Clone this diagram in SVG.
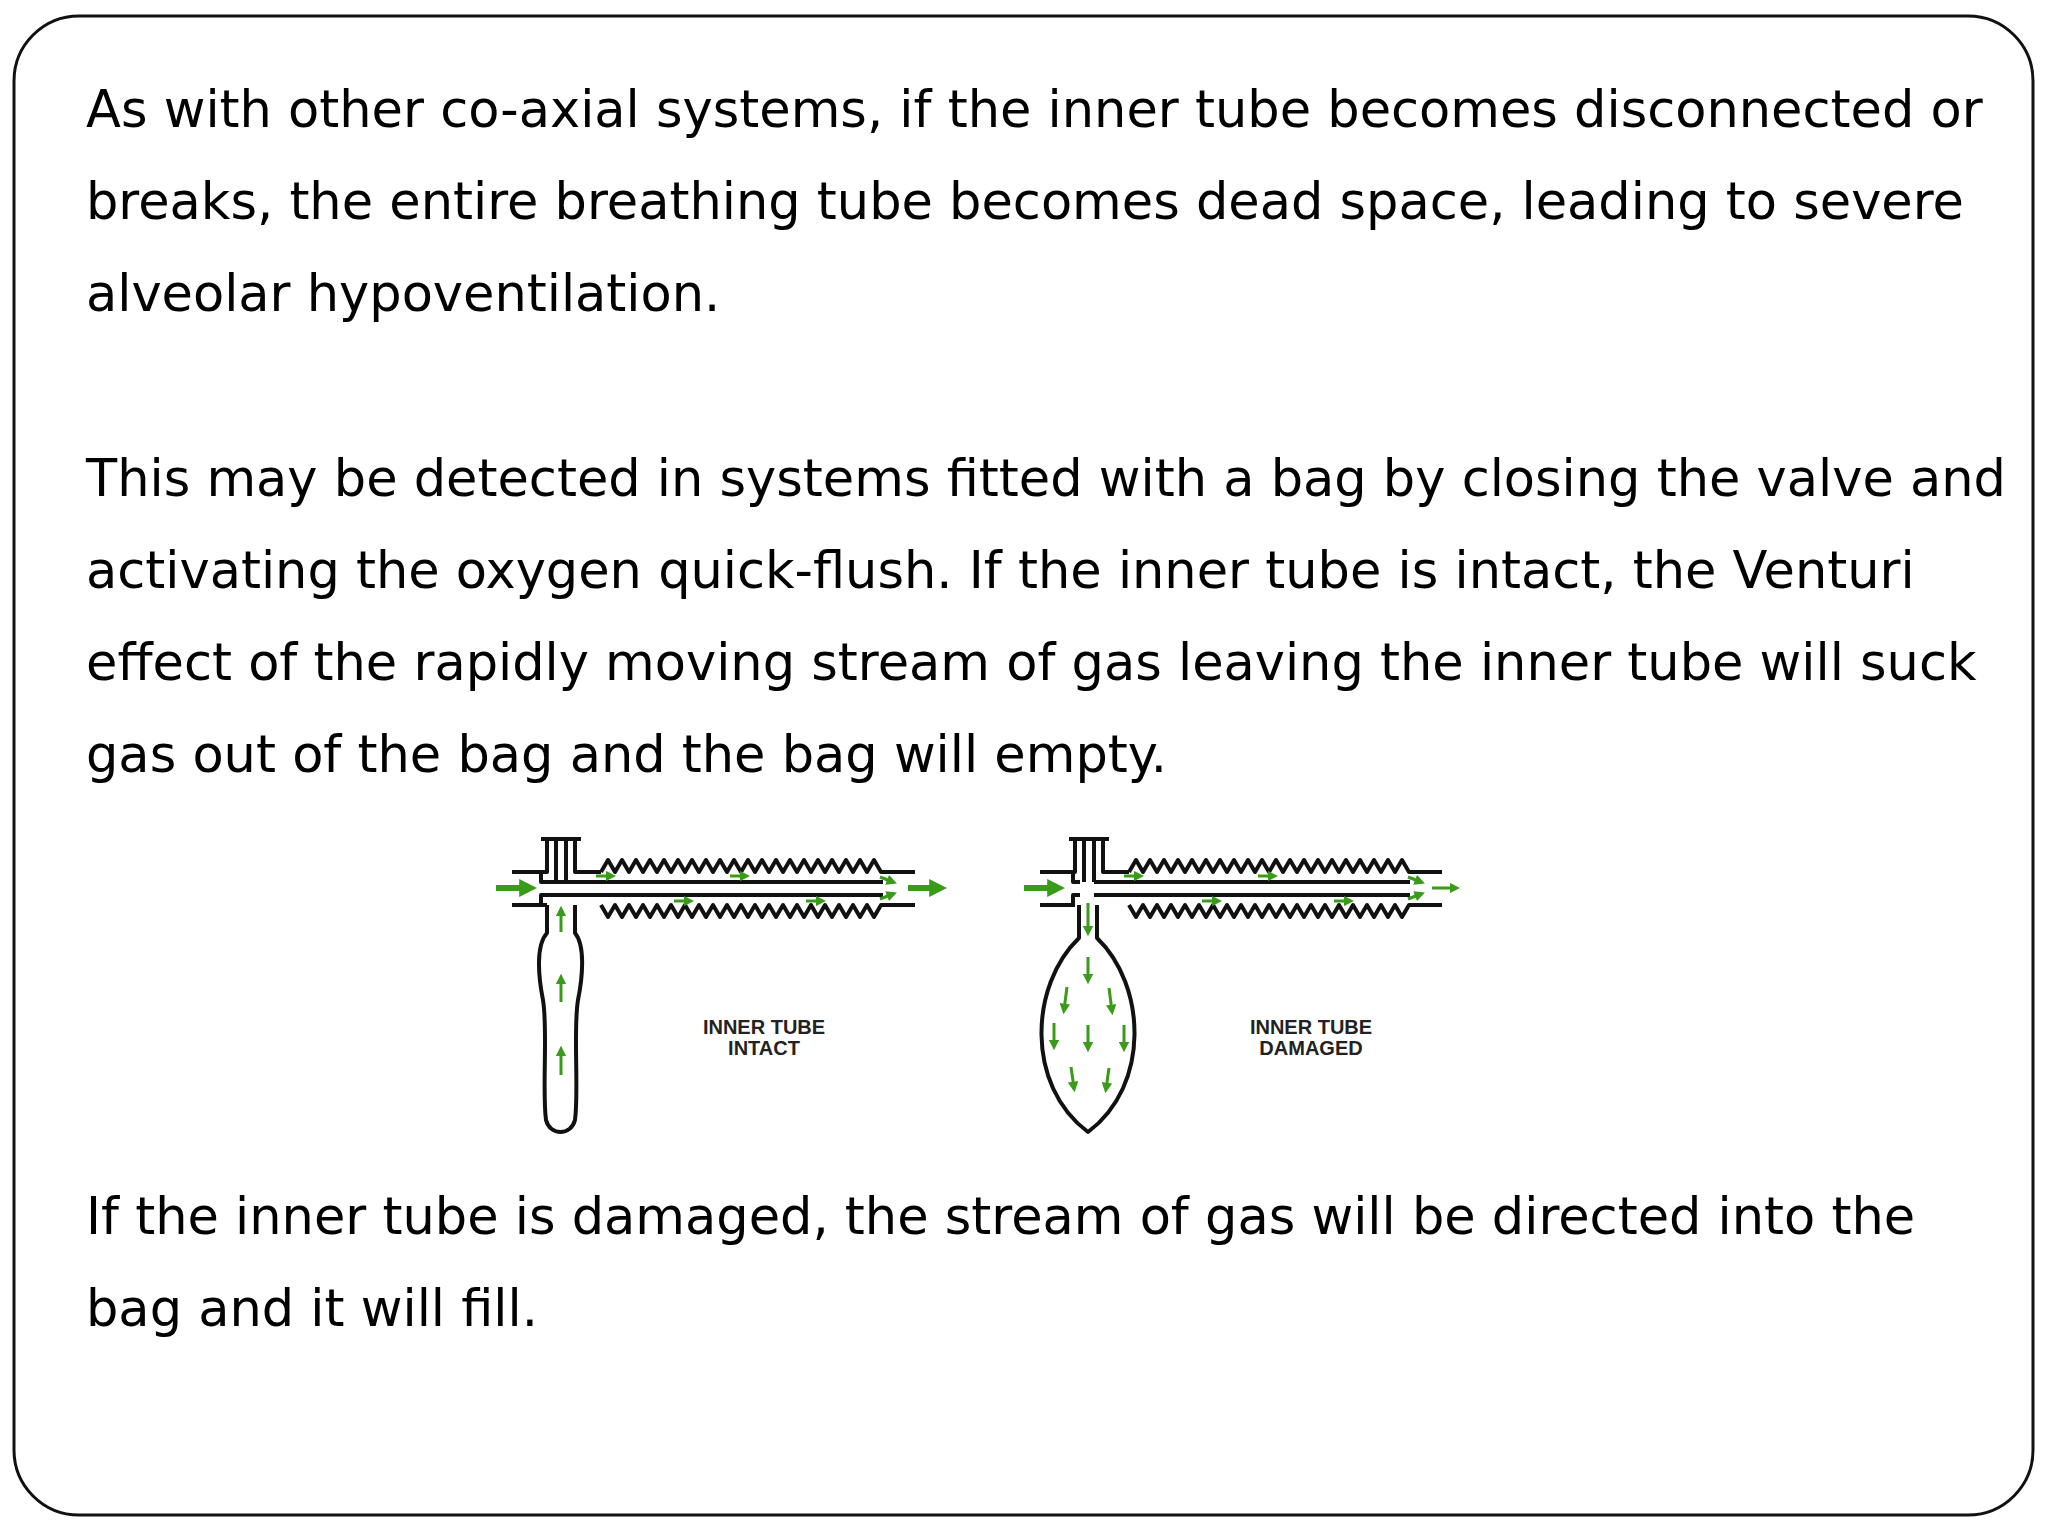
<svg xmlns="http://www.w3.org/2000/svg" width="2048" height="1536" viewBox="0 0 2048 1536">
<defs>
<style>
.t{font-family:"DejaVu Sans",Verdana,sans-serif;font-size:51px;fill:#000}
.l{font-family:"Liberation Sans",Arial,sans-serif;font-weight:bold;font-size:20px;fill:#222;text-anchor:middle}
.w{fill:none;stroke:#111;stroke-width:4;stroke-linejoin:round}
.g{fill:none;stroke:#3a9a1a;stroke-width:3}
.gb{fill:none;stroke:#3a9a1a;stroke-width:6}
</style>
<marker id="ah" viewBox="0 0 10 10" refX="6" refY="5" markerWidth="3" markerHeight="3" orient="auto"><path d="M0,0L10,5L0,10z" fill="#3a9a1a"/></marker>
<marker id="as" viewBox="0 0 10 10" refX="6" refY="5" markerWidth="3.5" markerHeight="3.5" orient="auto"><path d="M0,0L10,5L0,10z" fill="#3a9a1a"/></marker>
</defs>
<rect x="14" y="16" width="2019" height="1499" rx="65" fill="#fff" stroke="#111" stroke-width="3"/>
<g id="text">
<text class="t" x="86" y="127">As with other co-axial systems, if the inner tube becomes disconnected or</text>
<text class="t" x="86" y="219">breaks, the entire breathing tube becomes dead space, leading to severe</text>
<text class="t" x="86" y="311">alveolar hypoventilation.</text>
<text class="t" x="86" y="496">This may be detected in systems fitted with a bag by closing the valve and</text>
<text class="t" x="86" y="588">activating the oxygen quick-flush. If the inner tube is intact, the Venturi</text>
<text class="t" x="86" y="680">effect of the rapidly moving stream of gas leaving the inner tube will suck</text>
<text class="t" x="86" y="772">gas out of the bag and the bag will empty.</text>
<text class="t" x="86" y="1234">If the inner tube is damaged, the stream of gas will be directed into the</text>
<text class="t" x="86" y="1326">bag and it will fill.</text>
</g>
<g id="intact">
<path class="w" d="M512,872H547V839M575,839V872H601M556,839V882M566,839V882M541,839H581"/>
<path class="w" d="M601,872 l7,-12 l7,12 l7,-12 l7,12 l7,-12 l7,12 l7,-12 l7,12 l7,-12 l7,12 l7,-12 l7,12 l7,-12 l7,12 l7,-12 l7,12 l7,-12 l7,12 l7,-12 l7,12 l7,-12 l7,12 l7,-12 l7,12 l7,-12 l7,12 l7,-12 l7,12 l7,-12 l7,12 l7,-12 l7,12 l7,-12 l7,12 l7,-12 l7,12 l7,-12 l7,12 l7,-12 l7,12 H915"/>
<path class="w" d="M601,905 l7,12 l7,-12 l7,12 l7,-12 l7,12 l7,-12 l7,12 l7,-12 l7,12 l7,-12 l7,12 l7,-12 l7,12 l7,-12 l7,12 l7,-12 l7,12 l7,-12 l7,12 l7,-12 l7,12 l7,-12 l7,12 l7,-12 l7,12 l7,-12 l7,12 l7,-12 l7,12 l7,-12 l7,12 l7,-12 l7,12 l7,-12 l7,12 l7,-12 l7,12 l7,-12 l7,12 l7,-12 H915"/>
<path class="w" d="M541,872V882H883M541,905V895H883M512,905H547"/>
<path class="w" d="M547,905V933C536,945 538,975 543,1000C548,1030 542,1090 546,1120C550,1136 571,1136 575,1120C579,1090 573,1030 578,1000C583,975 585,945 575,933V905"/>
<path class="gb" marker-end="url(#ah)" d="M496,888H530"/>
<path class="gb" marker-end="url(#ah)" d="M908,888H940"/>
<path class="g" marker-end="url(#as)" d="M596,876H612"/>
<path class="g" marker-end="url(#as)" d="M730,876H746"/>
<path class="g" marker-end="url(#as)" d="M674,901H690"/>
<path class="g" marker-end="url(#as)" d="M806,901H822"/>
<path class="g" marker-end="url(#as)" d="M880,877L893,882"/>
<path class="g" marker-end="url(#as)" d="M880,899L893,894"/>
<path class="g" marker-end="url(#as)" d="M561,932V910"/>
<path class="g" marker-end="url(#as)" d="M561,1002V978"/>
<path class="g" marker-end="url(#as)" d="M561,1075V1050"/>
<text class="l" x="764" y="1034">INNER TUBE</text>
<text class="l" x="764" y="1055">INTACT</text>
</g>
<g id="damaged">
<path class="w" d="M1040,872H1075V839M1103,839V872H1129M1084,839V882M1094,839V882M1069,839H1109"/>
<path class="w" d="M1129,872 l7,-12 l7,12 l7,-12 l7,12 l7,-12 l7,12 l7,-12 l7,12 l7,-12 l7,12 l7,-12 l7,12 l7,-12 l7,12 l7,-12 l7,12 l7,-12 l7,12 l7,-12 l7,12 l7,-12 l7,12 l7,-12 l7,12 l7,-12 l7,12 l7,-12 l7,12 l7,-12 l7,12 l7,-12 l7,12 l7,-12 l7,12 l7,-12 l7,12 l7,-12 l7,12 l7,-12 l7,12 H1442"/>
<path class="w" d="M1129,905 l7,12 l7,-12 l7,12 l7,-12 l7,12 l7,-12 l7,12 l7,-12 l7,12 l7,-12 l7,12 l7,-12 l7,12 l7,-12 l7,12 l7,-12 l7,12 l7,-12 l7,12 l7,-12 l7,12 l7,-12 l7,12 l7,-12 l7,12 l7,-12 l7,12 l7,-12 l7,12 l7,-12 l7,12 l7,-12 l7,12 l7,-12 l7,12 l7,-12 l7,12 l7,-12 l7,12 l7,-12 H1442"/>
<path class="w" d="M1073,872V882H1080M1073,905V895H1080M1094,882H1410M1094,895H1410M1040,905H1075"/>
<path class="w" d="M1079,905V938C1030,985 1025,1085 1088,1132C1151,1085 1146,985 1097,938V905"/>
<path class="gb" marker-end="url(#ah)" d="M1024,888H1058"/>
<path class="g" marker-end="url(#as)" d="M1432,888H1456"/>
<path class="g" marker-end="url(#as)" d="M1124,876H1140"/>
<path class="g" marker-end="url(#as)" d="M1258,876H1274"/>
<path class="g" marker-end="url(#as)" d="M1202,901H1218"/>
<path class="g" marker-end="url(#as)" d="M1334,901H1350"/>
<path class="g" marker-end="url(#as)" d="M1408,877L1421,882"/>
<path class="g" marker-end="url(#as)" d="M1408,899L1421,894"/>
<path class="g" marker-end="url(#as)" d="M1088,903V932"/>
<path class="g" marker-end="url(#as)" d="M1088,957V980"/>
<path class="g" marker-end="url(#as)" d="M1067,987L1064,1010"/>
<path class="g" marker-end="url(#as)" d="M1109,988L1112,1011"/>
<path class="g" marker-end="url(#as)" d="M1054,1023V1046"/>
<path class="g" marker-end="url(#as)" d="M1088,1025V1048"/>
<path class="g" marker-end="url(#as)" d="M1124,1025V1048"/>
<path class="g" marker-end="url(#as)" d="M1071,1067L1074,1088"/>
<path class="g" marker-end="url(#as)" d="M1109,1068L1106,1089"/>
<text class="l" x="1311" y="1034">INNER TUBE</text>
<text class="l" x="1311" y="1055">DAMAGED</text>
</g>
</svg>
